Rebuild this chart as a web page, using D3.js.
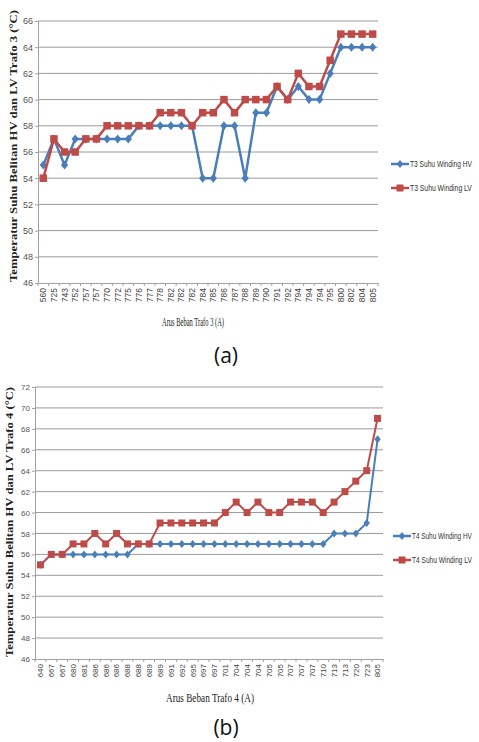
<!DOCTYPE html>
<html><head><meta charset="utf-8">
<script src="https://cdn.jsdelivr.net/npm/d3@7"></script>
<style>
body{margin:0;background:#fff;}
svg{display:block;}
</style></head>
<body>
<svg id="c" width="479" height="742"></svg>
<script>
// Chart (a) data
const catsA = ["560","725","743","752","757","757","770","772","775","776","777","778","782","782","782","784","785","786","787","788","789","790","791","792","794","794","794","795","800","802","804","805"];
const hvA = [55,57,55,57,57,57,57,57,57,58,58,58,58,58,58,54,54,58,58,54,59,59,61,60,61,60,60,62,64,64,64,64];
const lvA = [54,57,56,56,57,57,58,58,58,58,58,59,59,59,58,59,59,60,59,60,60,60,61,60,62,61,61,63,65,65,65,65];
const yTicksA = [46,48,50,52,54,56,58,60,62,64,66];

// Chart (b) data
const catsB = ["640","667","667","680","681","686","686","686","688","688","689","689","691","692","695","697","697","701","704","704","704","705","705","707","707","707","710","713","713","720","723","805"];
const hvB = [55,56,56,56,56,56,56,56,56,57,57,57,57,57,57,57,57,57,57,57,57,57,57,57,57,57,57,58,58,58,59,67];
const lvB = [55,56,56,57,57,58,57,58,57,57,57,59,59,59,59,59,59,60,61,60,61,60,60,61,61,61,60,61,62,63,64,69];
const yTicksB = [46,48,50,52,54,56,58,60,62,64,66,68,70,72];

const svg = d3.select("#c");
const BLUE = "#4a7ebb", RED = "#be4b48";

function drawChart(o){
  const g = svg.append("g");
  const x = d3.scaleBand().domain(d3.range(o.cats.length)).range([o.x0, o.x1]);
  const y = d3.scaleLinear().domain([o.yTicks[0], o.yTicks[o.yTicks.length-1]]).range([o.y1, o.y0]);
  // gridlines
  g.append("g").selectAll("line").data(o.yTicks.slice(1)).join("line")
    .attr("x1", o.x0).attr("x2", o.x1).attr("y1", d=>y(d)).attr("y2", d=>y(d))
    .attr("stroke", "#9a9a9a").attr("stroke-width", 1);
  // y axis
  const ya = d3.axisLeft(y).tickValues(o.yTicks).tickSize(3).tickFormat(d3.format("d"));
  const yg = g.append("g").attr("transform", `translate(${o.x0},0)`).call(ya);
  yg.select(".domain").attr("stroke", "#a0a0a0");
  yg.selectAll(".tick line").attr("stroke", "#a0a0a0");
  yg.selectAll("text").attr("fill", "#555").style("font-family", "'Liberation Sans Narrow','Arial Narrow',sans-serif").style("font-size", o.yFont+"px").attr("x", -5);
  // x axis
  const xa = d3.axisBottom(x).tickFormat(i=>o.cats[i]).tickSize(0);
  const xg = g.append("g").attr("transform", `translate(0,${o.y1})`).call(xa);
  xg.select(".domain").attr("stroke", "#a0a0a0");
  xg.selectAll("text").attr("fill", "#444")
    .style("font-family", "'Liberation Sans Narrow','Arial Narrow',sans-serif").style("font-size", o.xFont+"px")
    .attr("transform", "rotate(-90)").attr("text-anchor", "end").attr("x", -5).attr("y", 0).attr("dy", "0.35em");
  // category boundary ticks
  g.append("g").selectAll("line").data(d3.range(o.cats.length+1)).join("line")
    .attr("x1", i=>o.x0 + i*x.step()).attr("x2", i=>o.x0 + i*x.step())
    .attr("y1", o.y1).attr("y2", o.y1+3).attr("stroke", "#a0a0a0");
  const cx = i => x(i) + x.bandwidth()/2;
  const line = d3.line().x((d,i)=>cx(i)).y(d=>y(d));
  // HV series
  g.append("path").datum(o.hv).attr("d", line).attr("fill","none").attr("stroke", BLUE).attr("stroke-width", o.lw);
  const ds = o.dia;
  g.append("g").selectAll("path").data(o.hv).join("path")
    .attr("d", `M0,${-ds}L${ds*0.8},0L0,${ds}L${-ds*0.8},0Z`)
    .attr("transform", (d,i)=>`translate(${cx(i)},${y(d)})`).attr("fill", BLUE);
  // LV series
  g.append("path").datum(o.lv).attr("d", line).attr("fill","none").attr("stroke", RED).attr("stroke-width", o.lw);
  const sq = o.sq;
  g.append("g").selectAll("rect").data(o.lv).join("rect")
    .attr("x", (d,i)=>cx(i)-sq/2).attr("y", d=>y(d)-sq/2).attr("width", sq).attr("height", sq).attr("fill", RED);
  // y title
  g.append("text").attr("transform", `translate(${o.ytX},${o.ytY}) rotate(-90)`)
    .attr("text-anchor", "middle").attr("textLength", o.ytLen).attr("lengthAdjust", "spacingAndGlyphs")
    .style("font-family", "'Liberation Serif','Times New Roman',serif").style("font-weight", "bold").style("font-size", "10px")
    .attr("fill", "#222").text(o.yTitle);
  // x title
  g.append("text").attr("x", o.xtX).attr("y", o.xtY).attr("text-anchor", "middle")
    .attr("textLength", o.xtLen).attr("lengthAdjust", "spacingAndGlyphs")
    .style("font-family", "'Liberation Serif','Times New Roman',serif").style("font-size", "12px")
    .attr("fill", "#222").text(o.xTitle);
  // legend
  const lg = g.append("g");
  o.legend.forEach((t, k) => {
    const ly = o.legY[k];
    lg.append("line").attr("x1", o.legX).attr("x2", o.legX+18).attr("y1", ly).attr("y2", ly)
      .attr("stroke", k===0?BLUE:RED).attr("stroke-width", 2.5);
    if(k===0){
      lg.append("path").attr("d", `M0,-4L3.2,0L0,4L-3.2,0Z`).attr("transform", `translate(${o.legX+9},${ly})`).attr("fill", BLUE);
    } else {
      lg.append("rect").attr("x", o.legX+9-3.5).attr("y", ly-3.5).attr("width", 7).attr("height", 7).attr("fill", RED);
    }
    const tx = o.legX + 19;
    const txt = lg.append("text").attr("x", 0).attr("y", 0).attr("dy", "0.35em")
      .style("font-family", "'Liberation Sans Narrow','Arial Narrow',sans-serif").style("font-size", "9px")
      .attr("fill", "#333").text(t);
    const w = txt.node().getComputedTextLength();
    const sx = Math.min(1, (472 - tx) / w);
    txt.attr("transform", `translate(${tx},${ly}) scale(${sx},1)`);
  });
  // caption
  g.append("text").attr("x", o.capX).attr("y", o.capY).attr("text-anchor", "middle")
    .style("font-family", "'Open Sans','DejaVu Sans',sans-serif").style("font-size", "21px")
    .attr("fill", "#111").text(o.caption);
}

drawChart({cats: catsA, hv: hvA, lv: lvA, yTicks: yTicksA,
  x0: 38, x1: 378, y0: 21, y1: 283, yFont: 9, xFont: 8.5, lw: 2.5, dia: 4.5, sq: 7.5,
  yTitle: "Temperatur  Suhu Belitan HV dan LV Trafo 3 (°C)", ytX: 17, ytY: 146, ytLen: 272,
  xTitle: "Arus Beban Trafo 3 (A)", xtX: 193, xtY: 326, xtLen: 62,
  legend: ["T3 Suhu Winding HV", "T3 Suhu Winding LV"], legX: 391, legY: [164, 188],
  caption: "(a)", capX: 226, capY: 363});

drawChart({cats: catsB, hv: hvB, lv: lvB, yTicks: yTicksB,
  x0: 35, x1: 383, y0: 387, y1: 659, yFont: 8, xFont: 8, lw: 2, dia: 4, sq: 7,
  yTitle: "Temperatur  Suhu Belitan HV dan LV Trafo 4 (°C)", ytX: 13, ytY: 522, ytLen: 270,
  xTitle: "Arus Beban Trafo 4 (A)", xtX: 210, xtY: 702, xtLen: 88,
  legend: ["T4 Suhu Winding HV", "T4 Suhu Winding LV"], legX: 393, legY: [536, 560],
  caption: "(b)", capX: 226, capY: 735});
</script>
</body></html>
